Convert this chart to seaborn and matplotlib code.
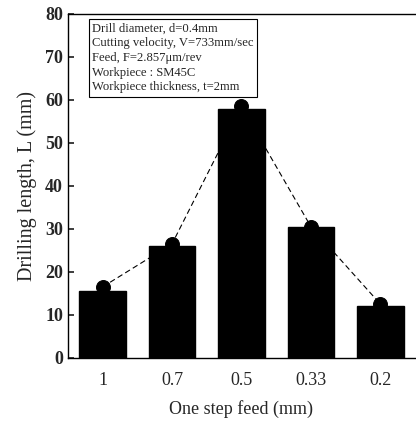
import matplotlib
matplotlib.use("Agg")
import matplotlib.pyplot as plt
import seaborn as sns
import pandas as pd

feeds = ["1", "0.7", "0.5", "0.33", "0.2"]
bar_values = [15.5, 26, 58, 30.5, 12]
point_values = [16.5, 26.5, 58.5, 30.5, 12.5]
y_ticks = [0, 10, 20, 30, 40, 50, 60, 70, 80]
info_lines = [
    "Drill diameter, d=0.4mm",
    "Cutting velocity, V=733mm/sec",
    "Feed, F=2.857\u03bcm/rev",
    "Workpiece : SM45C",
    "Workpiece thickness, t=2mm",
]

sns.set_theme(style="ticks")
plt.rcParams["font.family"] = ["Liberation Serif", "DejaVu Serif"]

df = pd.DataFrame({"feed": feeds, "bar": bar_values, "pt": point_values})

fig = plt.figure(figsize=(4.16, 4.24), dpi=100)
ax = fig.add_axes([0.163, 0.156, 0.835, 0.811])

sns.barplot(data=df, x="feed", y="bar", color="black", width=0.67,
            saturation=1, ax=ax, edgecolor="black")
sns.lineplot(data=df, x="feed", y="pt", color="black", linewidth=0.8,
             linestyle=(0, (5, 3)), marker="o", markersize=10,
             markeredgecolor="black", ax=ax, sort=False)

ax.set_xlim(-0.5, 4.5)
ax.set_ylim(0, 80)
ax.set_yticks(y_ticks)
ax.tick_params(axis="y", direction="in", length=4, labelsize=13)
ax.tick_params(axis="x", length=0, labelsize=13, pad=10)
for lab in ax.get_yticklabels():
    lab.set_fontweight("bold")
ax.set_xlabel("One step feed (mm)", fontsize=13, labelpad=8)
ax.set_ylabel("Drilling length, L (mm)", fontsize=14.5, labelpad=6)
ax.spines["right"].set_visible(False)
ax.spines["top"].set_visible(True)
for s in ax.spines.values():
    s.set_linewidth(1.0)
    s.set_color("black")

ax.text(0.07, 0.975, "\n".join(info_lines), transform=ax.transAxes,
        fontsize=9.1, va="top", ha="left", linespacing=1.3,
        bbox=dict(boxstyle="square,pad=0.25", facecolor="white",
                  edgecolor="black", linewidth=0.8))

fig.savefig("out.png", dpi=100)
